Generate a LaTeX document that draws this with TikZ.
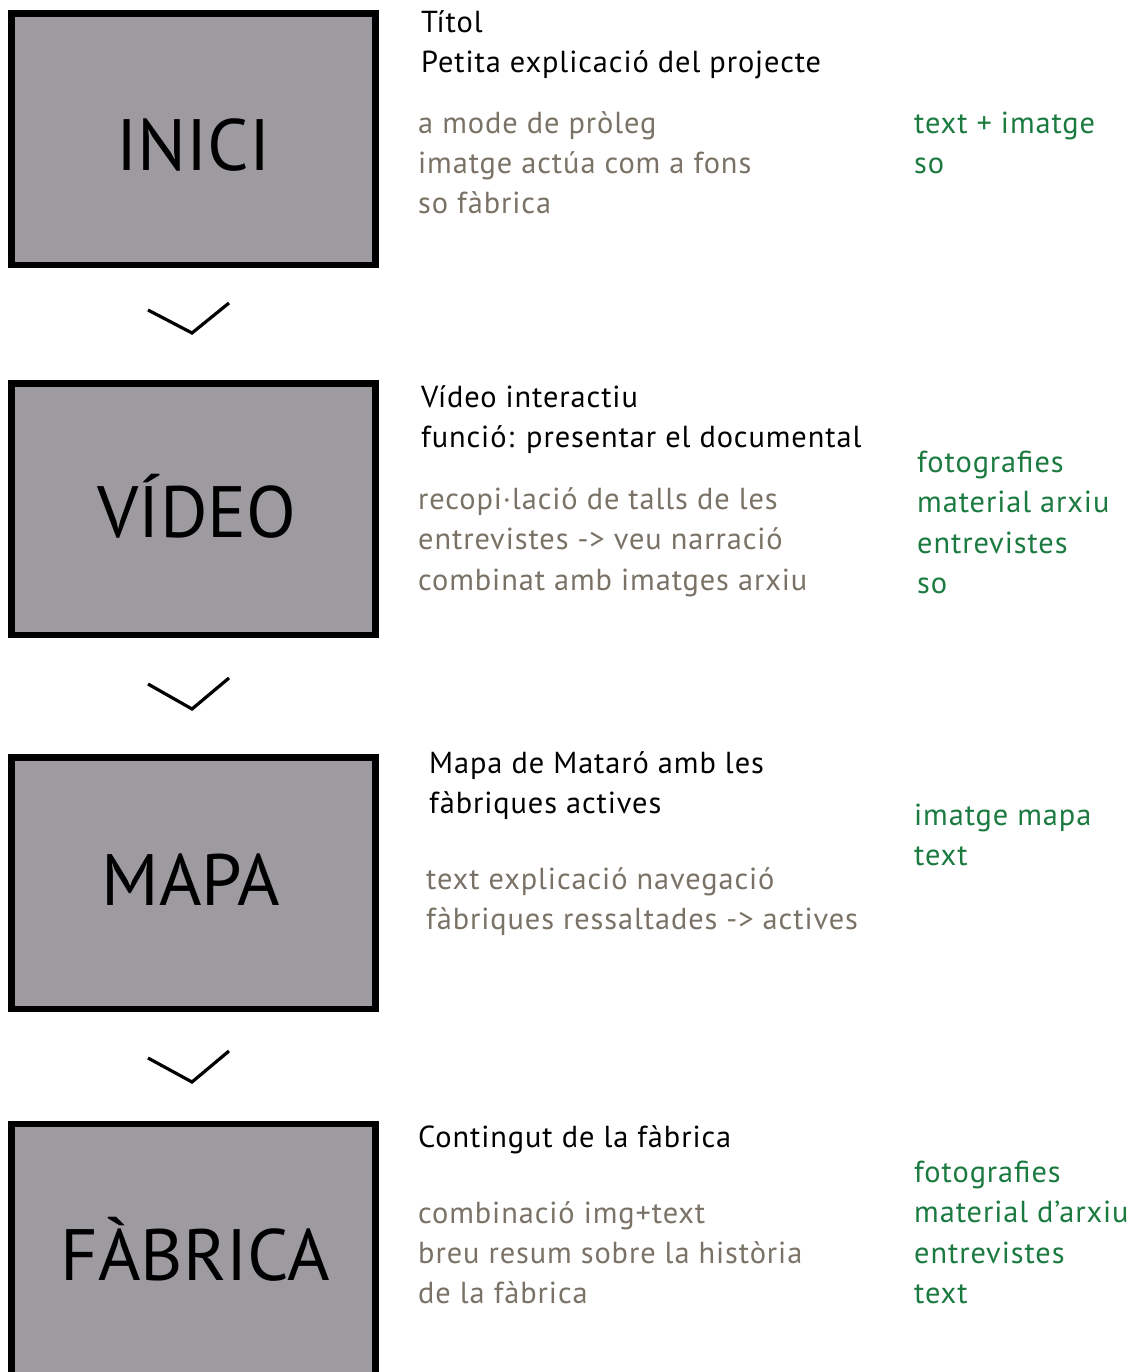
\documentclass[tikz,border=0pt]{standalone}
\usepackage{fontspec}
\setmainfont{PT Sans}
\newfontfamily\notefont[LetterSpace=3.0]{PT Sans}
\usetikzlibrary{calc}
\definecolor{boxfill}{HTML}{9D9AA0}
\definecolor{notegray}{HTML}{7A7266}
\definecolor{notegreen}{HTML}{1B7A40}
\tikzset{
  stagebox/.style={draw=black, line width=6.5bp, fill=boxfill, rectangle, inner sep=0pt,
    minimum width=364bp, minimum height=251.5bp},
  stagelabel/.style={anchor=base, inner sep=0pt, font=\fontsize{73}{80}\selectfont},
  txt/.style={anchor=base west, inner sep=0pt, font=\notefont\fontsize{30.5}{40}\selectfont},
  black txt/.style={txt, text=black},
  gray txt/.style={txt, text=notegray},
  green txt/.style={txt, text=notegreen},
  chevron/.style={draw=black, line width=3.2bp, line join=miter}
}
\begin{document}
\begin{tikzpicture}[x=1bp, y=-1bp]
\useasboundingbox (0,0) rectangle (1143,1372);
% boxes
\node[stagebox] (b1) at (193.5,139.25) {};
\node[stagebox] (b2) at (193.5,509.25) {};
\node[stagebox] (b3) at (193.5,883) {};
\node[stagebox, minimum height=270bp] (b4) at (193.5,1259) {};
\node[stagelabel] (l1) at (193.5,171) {INICI};
\node[stagelabel] (l2) at (197,537) {VÍDEO};
\node[stagelabel] (l3) at (191,905) {MAPA};
\node[stagelabel] (l4) at (195,1280) {FÀBRICA};
% chevrons
\draw[chevron] (148,310) -- (192,333) -- (229,303);
\draw[chevron] (148,684) -- (192,709) -- (229,678);
\draw[chevron] (148,1058) -- (192,1082) -- (229,1051);
% block 1
\node[black txt] (t1a) at (421,33) {Títol};
\node[black txt] (t1b) at (421,73) {Petita explicació del projecte};
\node[gray txt] (g1a) at (418,134) {a mode de pròleg};
\node[gray txt] (g1b) at (418,174) {imatge actúa com a fons};
\node[gray txt] (g1c) at (418,214) {so fàbrica};
\node[green txt] (r1a) at (914,134) {text + imatge};
\node[green txt] (r1b) at (914,174) {so};
% block 2
\node[black txt] (t2a) at (421,407) {Vídeo interactiu};
\node[black txt] (t2b) at (421,447) {funció: presentar el documental};
\node[gray txt] (g2a) at (418,509) {recopi·lació de talls de les};
\node[gray txt] (g2b) at (418,549) {entrevistes -> veu narració};
\node[gray txt] (g2c) at (418,590) {combinat amb imatges arxiu};
\node[green txt] (r2a) at (917,472) {fotografies};
\node[green txt] (r2b) at (917,512) {material arxiu};
\node[green txt] (r2c) at (917,553) {entrevistes};
\node[green txt] (r2d) at (917,593) {so};
% block 3
\node[black txt] (t3a) at (429,773) {Mapa de Mataró amb les};
\node[black txt] (t3b) at (429,813) {fàbriques actives};
\node[gray txt] (g3a) at (426,889) {text explicació navegació};
\node[gray txt] (g3b) at (426,929) {fàbriques ressaltades -> actives};
\node[green txt] (r3a) at (914,825) {imatge mapa};
\node[green txt] (r3b) at (914,865) {text};
% block 4
\node[black txt] (t4a) at (418,1147) {Contingut de la fàbrica};
\node[gray txt] (g4a) at (418,1223) {combinació img+text};
\node[gray txt] (g4b) at (418,1263) {breu resum sobre la història};
\node[gray txt] (g4c) at (418,1303) {de la fàbrica};
\node[green txt] (r4a) at (914,1182) {fotografies};
\node[green txt] (r4b) at (914,1222) {material d’arxiu};
\node[green txt] (r4c) at (914,1263) {entrevistes};
\node[green txt] (r4d) at (914,1303) {text};
\end{tikzpicture}
\end{document}
